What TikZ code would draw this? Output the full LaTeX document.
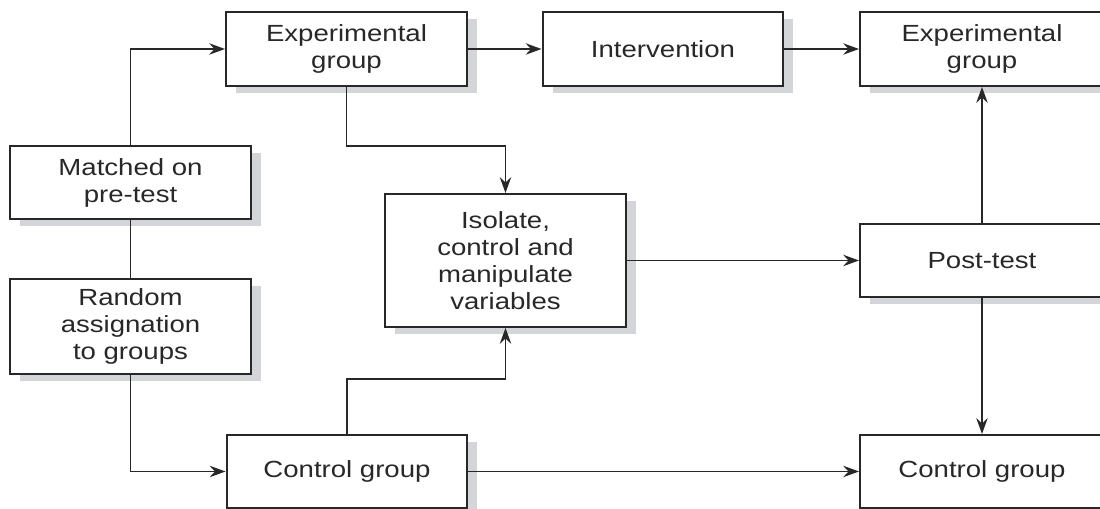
\documentclass[tikz,border=0pt]{standalone}
\usepackage{fontspec}
\usepackage{xcolor}
\usepackage{tikz}
\usetikzlibrary{arrows.meta, shadows}
\newfontfamily\diagfont[FakeStretch=1.18]{Liberation Sans}
\definecolor{inkgray}{RGB}{40, 40, 40}
\definecolor{shadowgray}{RGB}{212, 213, 216}

\begin{document}
\begin{tikzpicture}[
    x=0.02cm, y=-0.02cm,
    box/.style={rectangle, draw=inkgray, fill=white, line width=1.15pt,
                minimum width=4.82cm, minimum height=#1, inner sep=0pt,
                align=center, text=inkgray,
                font=\diagfont\fontsize{13.3}{15.4}\selectfont,
                drop shadow={shadow xshift=0.2cm, shadow yshift=-0.14cm,
                             fill=shadowgray, opacity=1}},
    box/.default=1.46cm,
    widebox/.style={box=#1, minimum width=4.88cm},
    widebox/.default=1.46cm,
    arrow/.style={-{Stealth[length=9pt, width=6.5pt, inset=3pt]},
                  draw=inkgray, line width=1pt},
    link/.style={draw=inkgray, line width=1pt}
]
    \useasboundingbox (0,0) rectangle (1100,509);

    % Left column
    \node[box] (matched) at (130.5, 182.5) {Matched on\\pre-test};
    \node[box=1.9cm] (random) at (130.5, 326.5) {Random\\assignation\\to groups};

    % Top row
    \node[box=1.48cm] (expleft) at (346.5, 49) {Experimental\\group};
    \node[box=1.48cm] (intervention) at (663, 49) {Intervention};
    \node[widebox=1.48cm] (expright) at (982, 49) {Experimental\\group};

    % Middle
    \node[box=2.66cm] (isolate) at (505.5, 260.5) {Isolate,\\control and\\manipulate\\variables};
    \node[widebox] (posttest) at (982, 260.5) {Post-test};

    % Bottom row
    \node[box] (controlleft) at (347, 471.5) {Control group};
    \node[widebox] (controlright) at (982, 471.5) {Control group};

    % Connectors
    \draw[arrow] (matched.north) |- (expleft.west);
    \draw[link] (matched.south) -- (random.north);
    \draw[arrow] (random.south) |- (controlleft.west);
    \draw[arrow] (expleft) -- (intervention);
    \draw[arrow] (intervention) -- (expright);
    \draw[arrow] (expleft.south) -- ++(0,59) -| (isolate.north);
    \draw[arrow] (controlleft.north) -- ++(0,-55) -| (isolate.south);
    \draw[arrow] (isolate) -- (posttest);
    \draw[arrow] (posttest) -- (expright);
    \draw[arrow] (posttest) -- (controlright);
    \draw[arrow] (controlleft) -- (controlright);
\end{tikzpicture}
\end{document}
